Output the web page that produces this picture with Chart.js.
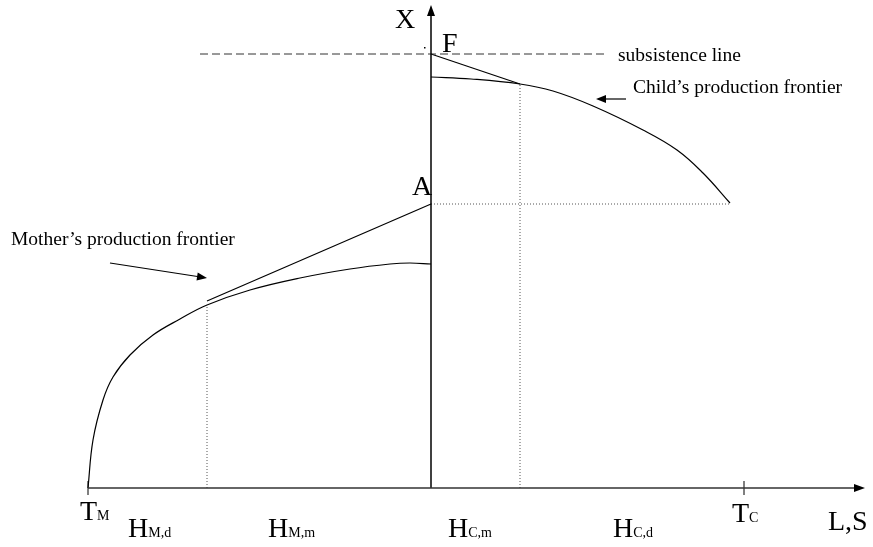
<!DOCTYPE html>
<html lang="en">
<head>
<meta charset="utf-8">
<script src="https://cdn.jsdelivr.net/npm/chart.js@4.4.1/dist/chart.umd.min.js"></script>
<style>
    html, body {
        margin: 0;
        padding: 0;
        background: #ffffff;
    }
    #wrap {
        width: 873px;
        height: 547px;
    }
</style>
</head>
<body>
<div id="wrap"><canvas id="frontierChart" width="873" height="547"></canvas></div>

<script>
    // origin = where the two axes cross; x to the right (L,S), y up (X)

    // mother's production frontier
    var motherX = [-343, -338, -328, -318, -301, -278, -251, -224, -181, -131, -81, -41, -21, 0];
    var motherY = [0, 48, 88, 111, 133, 153, 169, 183, 198, 210, 219, 224, 225, 224];

    // child's production frontier
    var childX = [0, 40, 89, 122, 162, 212, 246, 272, 299];
    var childY = [411, 409, 404, 397, 382, 358, 338, 315, 285];

    // tangent lines
    var motherTangentX = [-224, 0];
    var motherTangentY = [187, 284];
    var childTangentX = [0, 89];
    var childTangentY = [434, 404];

    // subsistence level
    var subsistenceX = [-231, 176];
    var subsistenceY = [434, 434];

    // key quantities
    var pointA = 284;          // height of A
    var hMotherDomestic = -224; // H_M,d / H_M,m split
    var hChildMarket = 89;      // H_C,m / H_C,d split
    var tMother = -343;
    var tChild = 313;
    var xAxisEnd = 434;
    var yAxisEnd = 483;

    // text labels [text, subscript, x, y]
    var axisLabels = [
        ['X', '', -36, 460],
        ['F', '', 11, 436],
        ['A', '', -19, 293],
        ['T', 'M', -351, -32],
        ['H', 'M,d', -303, -49],
        ['H', 'M,m', -163, -49],
        ['H', 'C,m', 17, -49],
        ['H', 'C,d', 182, -49],
        ['T', 'C', 301, -34],
        ['L,S', '', 397, -42]
    ];
    var noteLabels = [
        ['subsistence line', 187, 427],
        ['Child\u2019s production frontier', 202, 395],
        ['Mother\u2019s production frontier', -420, 243]
    ];
    // annotation arrows [fromX, fromY, toX, toY]
    var noteArrows = [
        [195, 389, 165, 389],
        [-321, 225, -224, 210]
    ];

    function pts(xs, ys) {
        var out = [];
        for (var i = 0; i < xs.length; i++) {
            out.push({ x: xs[i], y: ys[i] });
        }
        return out;
    }

    function lineSet(data, opts) {
        var ds = {
            data: data,
            showLine: true,
            pointRadius: 0,
            borderColor: '#000',
            borderWidth: 1.2,
            fill: false,
            tension: 0
        };
        for (var k in opts) ds[k] = opts[k];
        return ds;
    }

    function arrowHead(ctx, x1, y1, x2, y2, len, half) {
        var a = Math.atan2(y2 - y1, x2 - x1);
        ctx.beginPath();
        ctx.moveTo(x2, y2);
        ctx.lineTo(x2 - len * Math.cos(a) + half * Math.sin(a), y2 - len * Math.sin(a) - half * Math.cos(a));
        ctx.lineTo(x2 - len * Math.cos(a) - half * Math.sin(a), y2 - len * Math.sin(a) + half * Math.cos(a));
        ctx.closePath();
        ctx.fill();
    }

    var labelPlugin = {
        id: 'labelPlugin',
        afterDatasetsDraw: function (chart) {
            var ctx = chart.ctx;
            var sx = chart.scales.x;
            var sy = chart.scales.y;
            ctx.save();
            ctx.fillStyle = '#000';
            ctx.strokeStyle = '#000';
            ctx.textBaseline = 'alphabetic';

            // axis arrow heads
            arrowHead(ctx, sx.getPixelForValue(0), sy.getPixelForValue(0),
                sx.getPixelForValue(xAxisEnd), sy.getPixelForValue(0), 11, 4);
            arrowHead(ctx, sx.getPixelForValue(0), sy.getPixelForValue(0),
                sx.getPixelForValue(0), sy.getPixelForValue(yAxisEnd), 11, 4);

            // annotation arrows
            ctx.lineWidth = 1.2;
            noteArrows.forEach(function (a) {
                var x1 = sx.getPixelForValue(a[0]), y1 = sy.getPixelForValue(a[1]);
                var x2 = sx.getPixelForValue(a[2]), y2 = sy.getPixelForValue(a[3]);
                var ang = Math.atan2(y2 - y1, x2 - x1);
                ctx.beginPath();
                ctx.moveTo(x1, y1);
                ctx.lineTo(x2 - 8 * Math.cos(ang), y2 - 8 * Math.sin(ang));
                ctx.stroke();
                arrowHead(ctx, x1, y1, x2, y2, 10, 4);
            });

            // big letters with subscripts
            axisLabels.forEach(function (l) {
                var px = sx.getPixelForValue(l[2]);
                var py = sy.getPixelForValue(l[3]);
                ctx.font = '28px "Liberation Serif", "Times New Roman", serif';
                ctx.fillText(l[0], px, py);
                if (l[1]) {
                    var w = ctx.measureText(l[0]).width;
                    ctx.font = '14px "Liberation Serif", "Times New Roman", serif';
                    ctx.fillText(l[1], px + w, py);
                }
            });

            // notes
            ctx.font = '19.5px "Liberation Serif", "Times New Roman", serif';
            noteLabels.forEach(function (l) {
                ctx.fillText(l[0], sx.getPixelForValue(l[1]), sy.getPixelForValue(l[2]));
            });

            // stray dot left of F
            ctx.fillRect(sx.getPixelForValue(-7), sy.getPixelForValue(441), 1.5, 1.5);
            ctx.restore();
        }
    };

    var dotted = { borderColor: '#555', borderWidth: 1, borderDash: [1, 2] };

    var datasets = [
        // axes
        lineSet(pts([tMother, xAxisEnd - 6], [0, 0]), { borderWidth: 1.5, borderColor: '#333' }),
        lineSet(pts([0, 0], [0, yAxisEnd - 6]), { borderWidth: 1.5 }),
        lineSet(pts([tMother, tMother], [-7, 7]), { borderWidth: 1 }),
        lineSet(pts([tChild, tChild], [-7, 7]), { borderWidth: 1 }),
        // dotted guides
        lineSet(pts([hMotherDomestic, hMotherDomestic], [0, 183]), dotted),
        lineSet(pts([hChildMarket, hChildMarket], [0, 404]), dotted),
        lineSet(pts([0, childX[childX.length - 1]], [pointA, pointA]), dotted),
        // subsistence line
        lineSet(pts(subsistenceX, subsistenceY), { borderWidth: 1, borderColor: '#333', borderDash: [8, 4] }),
        // frontiers
        lineSet(pts(motherX, motherY), { tension: 0.4 }),
        lineSet(pts(childX, childY), { tension: 0.4 }),
        // tangents
        lineSet(pts(motherTangentX, motherTangentY), {}),
        lineSet(pts(childTangentX, childTangentY), {})
    ];

    new Chart(document.getElementById('frontierChart').getContext('2d'), {
        type: 'scatter',
        data: { datasets: datasets },
        options: {
            responsive: false,
            animation: false,
            devicePixelRatio: 1,
            layout: { padding: 0 },
            plugins: {
                legend: { display: false },
                tooltip: { enabled: false },
                title: { display: false }
            },
            scales: {
                x: { type: 'linear', display: false, min: -431, max: 442 },
                y: { type: 'linear', display: false, min: -59, max: 488 }
            }
        },
        plugins: [labelPlugin]
    });
</script>
</body>
</html>
